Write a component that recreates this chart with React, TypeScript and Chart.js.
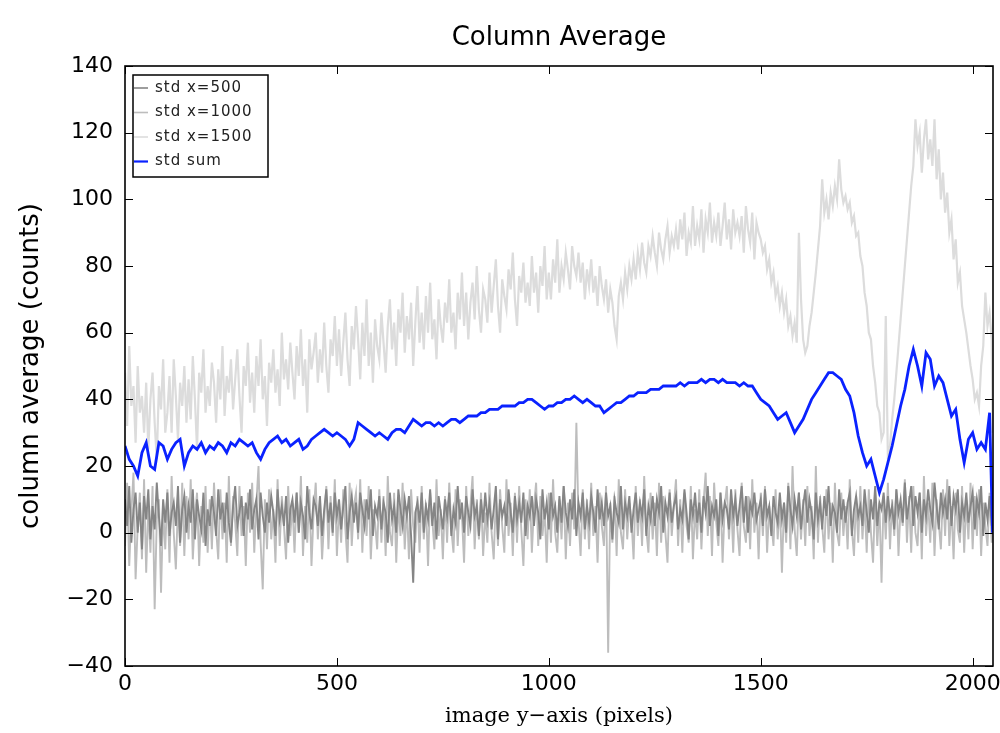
import React, { useEffect, useRef } from "react";
import { Chart, registerables } from "chart.js";

Chart.register(...registerables);

// image y-axis positions (pixels) for the three single-column curves
const xFine = [
  0, 5, 10, 15, 20, 25, 30, 35, 40, 45,
  50, 55, 60, 65, 70, 75, 80, 85, 90, 95,
  100, 105, 110, 115, 120, 125, 130, 135, 140, 145,
  150, 155, 160, 165, 170, 175, 180, 185, 190, 195,
  200, 205, 210, 215, 220, 225, 230, 235, 240, 245,
  250, 255, 260, 265, 270, 275, 280, 285, 290, 295,
  300, 305, 310, 315, 320, 325, 330, 335, 340, 345,
  350, 355, 360, 365, 370, 375, 380, 385, 390, 395,
  400, 405, 410, 415, 420, 425, 430, 435, 440, 445,
  450, 455, 460, 465, 470, 475, 480, 485, 490, 495,
  500, 505, 510, 515, 520, 525, 530, 535, 540, 545,
  550, 555, 560, 565, 570, 575, 580, 585, 590, 595,
  600, 605, 610, 615, 620, 625, 630, 635, 640, 645,
  650, 655, 660, 665, 670, 675, 680, 685, 690, 695,
  700, 705, 710, 715, 720, 725, 730, 735, 740, 745,
  750, 755, 760, 765, 770, 775, 780, 785, 790, 795,
  800, 805, 810, 815, 820, 825, 830, 835, 840, 845,
  850, 855, 860, 865, 870, 875, 880, 885, 890, 895,
  900, 905, 910, 915, 920, 925, 930, 935, 940, 945,
  950, 955, 960, 965, 970, 975, 980, 985, 990, 995,
  1000, 1005, 1010, 1015, 1020, 1025, 1030, 1035, 1040, 1045,
  1050, 1055, 1060, 1065, 1070, 1075, 1080, 1085, 1090, 1095,
  1100, 1105, 1110, 1115, 1120, 1125, 1130, 1135, 1140, 1145,
  1150, 1155, 1160, 1165, 1170, 1175, 1180, 1185, 1190, 1195,
  1200, 1205, 1210, 1215, 1220, 1225, 1230, 1235, 1240, 1245,
  1250, 1255, 1260, 1265, 1270, 1275, 1280, 1285, 1290, 1295,
  1300, 1305, 1310, 1315, 1320, 1325, 1330, 1335, 1340, 1345,
  1350, 1355, 1360, 1365, 1370, 1375, 1380, 1385, 1390, 1395,
  1400, 1405, 1410, 1415, 1420, 1425, 1430, 1435, 1440, 1445,
  1450, 1455, 1460, 1465, 1470, 1475, 1480, 1485, 1490, 1495,
  1500, 1505, 1510, 1515, 1520, 1525, 1530, 1535, 1540, 1545,
  1550, 1555, 1560, 1565, 1570, 1575, 1580, 1585, 1590, 1595,
  1600, 1605, 1610, 1615, 1620, 1625, 1630, 1635, 1640, 1645,
  1650, 1655, 1660, 1665, 1670, 1675, 1680, 1685, 1690, 1695,
  1700, 1705, 1710, 1715, 1720, 1725, 1730, 1735, 1740, 1745,
  1750, 1755, 1760, 1765, 1770, 1775, 1780, 1785, 1790, 1795,
  1800, 1805, 1810, 1815, 1820, 1825, 1830, 1835, 1840, 1845,
  1850, 1855, 1860, 1865, 1870, 1875, 1880, 1885, 1890, 1895,
  1900, 1905, 1910, 1915, 1920, 1925, 1930, 1935, 1940, 1945,
  1950, 1955, 1960, 1965, 1970, 1975, 1980, 1985, 1990, 1995,
  2000, 2005, 2010, 2015, 2020, 2025, 2030, 2035, 2040, 2045,
  2047,
];

// image y-axis positions (pixels) for the summed curve
const xCoarse = [
  0, 10, 20, 30, 40, 50, 60, 70, 80, 90,
  100, 110, 120, 130, 140, 150, 160, 170, 180, 190,
  200, 210, 220, 230, 240, 250, 260, 270, 280, 290,
  300, 310, 320, 330, 340, 350, 360, 370, 380, 390,
  400, 410, 420, 430, 440, 450, 460, 470, 480, 490,
  500, 510, 520, 530, 540, 550, 560, 570, 580, 590,
  600, 610, 620, 630, 640, 650, 660, 670, 680, 690,
  700, 710, 720, 730, 740, 750, 760, 770, 780, 790,
  800, 810, 820, 830, 840, 850, 860, 870, 880, 890,
  900, 910, 920, 930, 940, 950, 960, 970, 980, 990,
  1000, 1010, 1020, 1030, 1040, 1050, 1060, 1070, 1080, 1090,
  1100, 1110, 1120, 1130, 1140, 1150, 1160, 1170, 1180, 1190,
  1200, 1210, 1220, 1230, 1240, 1250, 1260, 1270, 1280, 1290,
  1300, 1310, 1320, 1330, 1340, 1350, 1360, 1370, 1380, 1390,
  1400, 1410, 1420, 1430, 1440, 1450, 1460, 1470, 1480, 1490,
  1500, 1510, 1520, 1530, 1540, 1550, 1560, 1570, 1580, 1590,
  1600, 1610, 1620, 1630, 1640, 1650, 1660, 1670, 1680, 1690,
  1700, 1710, 1720, 1730, 1740, 1750, 1760, 1770, 1780, 1790,
  1800, 1810, 1820, 1830, 1840, 1850, 1860, 1870, 1880, 1890,
  1900, 1910, 1920, 1930, 1940, 1950, 1960, 1970, 1980, 1990,
  2000, 2010, 2020, 2030, 2040, 2047,
];

const std500 = [
  10, 2, 14, -3, 7, 12, 0, 9, -5, 11,
  4, 13, -2, 8, 1, 15, 5, -4, 10, 3,
  12, -1, 6, 9, 2, 14, -3, 7, 11, 0,
  8, 3, 13, -2, 10, 5, 1, 12, -4, 7,
  2, 11, 6, -1, 13, 4, 9, 0, 12, 3,
  -3, 8, 14, 2, 6, 11, -1, 9, 4, 13,
  1, 7, 10, -2, 12, 5, 0, 9, 3, 11,
  6, -1, 13, 4, 8, 2, 11, -3, 7, 10,
  3, 12, 0, 9, 5, -2, 14, 6, 1, 10,
  8, 2, 11, -1, 7, 13, 3, 9, 0, 12,
  5, 10, 1, 8, 14, -2, 6, 11, 3, 9,
  0, 12, 7, 2, 10, 4, 13, -1, 8, 5,
  11, 1, 9, 6, -3, 12, 4, 8, 0, 13,
  7, 2, 10, 5, 11, -1, -15, 6, 9, 3,
  12, 0, 8, 4, 13, 2, 9, -2, 11, 6,
  1, 10, 5, 12, -1, 7, 3, 14, 4, 9,
  0, 11, 6, 2, 13, 5, 8, -1, 10, 3,
  12, 4, 9, 1, 7, 14, -2, 10, 5, 8,
  2, 13, 6, 0, 11, 4, 9, 3, 12, -1,
  8, 5, 11, 2, 10, 6, -2, 13, 4, 9,
  1, 12, 5, 8, 0, 11, 3, 14, 6, 2,
  10, 4, 13, -1, 9, 5, 12, 1, 8, 3,
  11, 6, 0, 13, 4, 9, 2, 12, 5, 8,
  -2, 10, 6, 3, 14, 1, 9, 5, 11, 0,
  7, 12, 3, 9, 5, 13, -1, 8, 4, 11,
  2, 10, 6, 14, 0, 9, 5, 12, 3, 8,
  11, 1, 7, 4, 13, 6, -2, 10, 5, 12,
  3, 9, 0, 11, 6, 14, 2, 8, 5, 10,
  -1, 12, 4, 9, 7, 1, 13, 5, 10, 2,
  8, 14, 3, 11, 0, 9, 6, 12, 4, 7,
  10, 2, 13, 5, 8, -1, 11, 6, 3, 12,
  4, 9, 0, 14, 7, 2, 10, 5, 12, 1,
  8, 13, 3, 10, 6, -2, 12, 4, 9, 1,
  11, 5, 14, 2, 8, 6, 0, 13, 4, 10,
  3, 9, 12, -1, 7, 11, 5, 8, 2, 13,
  6, 0, 10, 4, 14, 2, 9, 7, 12, 3,
  11, 5, 8, 1, 13, 6, 10, 3, 15, 4,
  9, 14, 2, 11, 6, 12, 0, 10, 5, 13,
  7, 3, 15, 8, 1, 12, 6, 10, 4, 14,
  2, 11, 7, 13, 0, 9, 5, 12, 3, 8,
  12, 1, 10, 6, 14, -1, 9, 4, 11, 2,
  6,
];

const std1000 = [
  -4, 15, -10, 6, 18, -14, 2, 12, -8, 16,
  -12, 8, -6, 14, -23, 4, 10, -18, 7, -5,
  13, -9, 17, 0, -11, 9, -4, 15, -7, 11,
  -2, 16, -8, 5, 12, -10, 8, -3, 14, -6,
  10, -5, 15, 1, -8, 13, -2, 9, -9, 17,
  -4, 11, 3, -7, 14, -1, 8, -10, 12, 0,
  15, -6, 9, 20, -3, -17, 10, -5, 13, -2,
  7, -9, 16, -4, 11, 2, -8, 14, -1, 9,
  -6, 12, 0, 17, -7, 8, -3, 13, -10, 6,
  15, -2, 10, -8, 4, 14, -5, 11, -1, 16,
  -7, 9, -3, 13, 1, -9, 15, -4, 8, 12,
  -2, 16, -6, 10, -1, 14, -8, 7, 3, -5,
  13, -3, 11, -7, 17, 0, -4, 12, -9, 9,
  -1, 15, -5, 8, -8, 13, 2, -3, 11, -6,
  14, -2, 9, -10, 12, 4, -5, 16, -1, 7,
  -8, 11, -3, 15, 1, -6, 13, -4, 10, 5,
  -9, 14, -1, 8, 17, -5, 10, -2, 12, -7,
  6, -3, 15, 0, -8, 11, -4, 13, 2, -6,
  16, -1, 9, -7, 12, -3, 14, 1, -10, 10,
  -2, 13, -6, 8, 15, -4, 11, -1, 7, -9,
  12, -3, 16, 0, -6, 10, -2, 14, -8, 9,
  -4, 12, 1, 33, 4, -7, 13, -2, 10, -5,
  15, -1, 8, -9, 12, 2, -4, 14, -36, 9,
  -3, 11, -7, 16, 0, -5, 13, -2, 9, 4,
  -8, 14, -1, 10, -4, 17, 1, -6, 12, -2,
  9, -7, 15, -3, 11, 0, -9, 13, -1, 8,
  16, -4, 10, -6, 12, 2, -3, 14, -8, 7,
  -2, 13, -5, 9, 18, -1, 11, -7, 15, 3,
  -4, 12, -9, 8, 14, -2, 10, -6, 13, 1,
  -7, 15, 2, -3, 11, -5, 16, 0, 9, -8,
  12, -1, 14, -6, 8, 3, -4, 13, -2, 10,
  -12, 9, -3, 15, -5, 20, 1, -7, 12, -2,
  10, -4, 14, -1, 8, -8, 20, -3, 11, 2,
  -6, 13, -2, 9, -9, 15, 0, -4, 12, -1,
  8, -5, 16, 1, -7, 11, -3, 14, -2, 10,
  -6, 13, 0, -9, 12, -4, 9, -15, 11, -2,
  15, -5, 10, -1, 13, -7, 8, 2, 16, -3,
  11, -6, 14, 0, -4, 12, -8, 17, -1, 9,
  -3, 15, -7, 10, 3, -5, 13, -1, 16, -4,
  8, -8, 12, 1, -3, 14, -6, 10, -2, 15,
  -5, 11, -1, 13, -7, 9, 2, -4, 12, -3,
  5,
];

const std1500 = [
  48, 32, 56, 38, 44, 27, 50, 36, 41, 30,
  45, 25, 40, 48, 33, 22, 44, 37, 52, 30,
  36, 47, 30, 52, 41, 28, 45, 38, 50, 33,
  46, 34, 53, 40, 25, 48, 42, 55, 36, 44,
  38, 51, 45, 33, 49, 40, 56, 35, 47, 42,
  52, 37, 46, 55, 41, 30, 50, 44, 57, 39,
  48, 36, 53, 44, 58, 40, 47, 32, 51, 45,
  55, 42, 49, 38, 60, 46, 52, 43, 57, 48,
  40, 56, 47, 61, 44, 52, 36, 58, 49, 54,
  60, 45, 55, 48, 63, 50, 42, 58, 53, 65,
  50, 61, 47, 57, 66, 52, 44, 62, 55, 68,
  58, 46, 63, 53, 70, 50, 60, 45, 64, 56,
  52, 66, 57, 48, 62, 70, 55, 63, 50, 67,
  60, 72, 54, 65, 58, 69, 50, 63, 74, 57,
  66, 55, 71, 60, 75, 58, 64, 52, 70, 62,
  57, 69, 63, 76, 60, 66, 55, 72, 64, 78,
  62, 72, 58, 69, 75, 64, 80, 67, 60, 73,
  70, 63, 78, 66, 74, 82, 68, 60, 76, 71,
  67, 79, 73, 84, 70, 62, 77, 72, 81, 69,
  75, 68, 83, 72, 78, 66, 80, 74, 86, 70,
  78, 70, 82, 75, 88, 72, 80, 76, 84, 79,
  73, 86, 80, 77, 84, 75, 81, 70, 79, 74,
  82, 72, 77, 68, 80, 74, 70, 76, 66, 73,
  69, 62, 58, 71, 75, 70, 78, 73, 80, 76,
  82, 76, 84, 79, 87, 81, 78, 86, 83, 89,
  84, 80, 90, 85, 82, 88, 92, 84, 89, 86,
  91, 85, 94, 88, 96, 83, 90, 87, 98, 86,
  92, 88, 97, 84, 94, 90, 99, 87, 93, 89,
  96, 86, 92, 99, 88, 94, 85, 97, 90, 93,
  89, 95, 84, 98, 91, 87, 96, 82, 93, 90,
  88, 84, 86, 79, 82, 75, 78, 71, 74, 68,
  72, 66, 70, 62, 65, 59, 63, 57, 90, 70,
  58, 54, 56, 62, 66, 72, 78, 85, 92, 106,
  96, 100, 94, 102, 98, 104, 100, 112, 103, 99,
  101, 97, 99, 93, 95, 89, 90, 83, 80, 72,
  68, 60, 58, 50, 45, 38, 36, 28, 30, 65,
  22, 26, 34, 40, 48, 56, 64, 72, 80, 88,
  96, 104, 110, 124, 116, 120, 108, 118, 124, 112,
  118, 110, 124, 106, 115, 100, 108, 96, 102, 90,
  94, 82, 88, 75, 78, 68, 64, 60, 55, 50,
  46, 40, 42, 38, 50, 56, 72, 62, 66, 58,
  30,
];

const stdSum = [
  26, 22, 20, 17, 24, 27, 20, 19, 27, 26,
  22, 25, 27, 28, 20, 24, 26, 25, 27, 24,
  26, 25, 27, 26, 24, 27, 26, 28, 27, 26,
  27, 24, 22, 25, 27, 28, 29, 27, 28, 26,
  27, 28, 25, 26, 28, 29, 30, 31, 30, 29,
  30, 29, 28, 26, 28, 33, 32, 31, 30, 29,
  30, 29, 28, 30, 31, 31, 30, 32, 34, 33,
  32, 33, 33, 32, 33, 32, 33, 34, 34, 33,
  34, 35, 35, 35, 36, 36, 37, 37, 37, 38,
  38, 38, 38, 39, 39, 40, 40, 39, 38, 37,
  38, 38, 39, 39, 40, 40, 41, 40, 39, 40,
  39, 38, 38, 36, 37, 38, 39, 39, 40, 41,
  41, 42, 42, 42, 43, 43, 43, 44, 44, 44,
  44, 45, 44, 45, 45, 45, 46, 45, 46, 46,
  45, 46, 45, 45, 45, 44, 45, 44, 44, 42,
  40, 39, 38, 36, 34, 35, 36, 33, 30, 32,
  34, 37, 40, 42, 44, 46, 48, 48, 47, 46,
  43, 41, 36, 29, 24, 20, 22, 17, 12, 16,
  21, 26, 32, 38, 43, 50, 55, 50, 44, 54,
  52, 44, 47, 45, 40, 35, 37, 28, 21, 28,
  30, 25, 27, 25, 36, 0,
];

const xTicks = [0, 500, 1000, 1500, 2000];
const yTicks = [-40, -20, 0, 20, 40, 60, 80, 100, 120, 140];
const seriesLabels = ["std x=500", "std x=1000", "std x=1500", "std sum"];
const seriesColors = ["#858585", "#bdbdbd", "#dcdcdc", "#0a22ff"];
const chartTitle = "Column Average";
const xTitle = "image y\u2212axis (pixels)";
const yTitle = "column average (counts)";

const SANS = "'DejaVu Sans', sans-serif";
const SERIF = "'DejaVu Serif', 'Liberation Serif', serif";

function fmt(v: number): string {
  return v < 0 ? "\u2212" + Math.abs(v) : String(v);
}

export default function App() {
  const ref = useRef<HTMLCanvasElement>(null);

  useEffect(() => {
    const canvas = ref.current;
    if (!canvas) return;
    const toPts = (xs: number[], ys: number[]) => xs.map((x, i) => ({ x, y: ys[i] }));
    const allSeries = [
      { xs: xFine, ys: std500 },
      { xs: xFine, ys: std1000 },
      { xs: xFine, ys: std1500 },
      { xs: xCoarse, ys: stdSum },
    ];
    const orders = [1, 2, 3, 0];
    const widths = [1.9, 1.9, 2.2, 2.8];

    const decor = {
      id: "decor",
      afterDatasetsDraw(chart: any) {
        const { ctx, chartArea: a, scales } = chart;
        ctx.save();
        ctx.strokeStyle = "#000";
        ctx.lineWidth = 1;
        const tl = 8;
        for (const v of xTicks) {
          const px = Math.round(scales.x.getPixelForValue(v)) + 0.5;
          ctx.beginPath();
          ctx.moveTo(px, a.bottom);
          ctx.lineTo(px, a.bottom - tl);
          ctx.moveTo(px, a.top);
          ctx.lineTo(px, a.top + tl);
          ctx.stroke();
        }
        for (const v of yTicks) {
          const py = Math.round(scales.y.getPixelForValue(v)) + 0.5;
          ctx.beginPath();
          ctx.moveTo(a.left, py);
          ctx.lineTo(a.left + tl, py);
          ctx.moveTo(a.right, py);
          ctx.lineTo(a.right - tl, py);
          ctx.stroke();
        }
        ctx.lineWidth = 1.6;
        ctx.strokeRect(a.left, a.top, a.right - a.left, a.bottom - a.top);

        // legend
        const lx = a.left + 8;
        const ly = a.top + 9;
        const lw = 135;
        const lh = 102;
        ctx.fillStyle = "#fff";
        ctx.fillRect(lx, ly, lw, lh);
        ctx.lineWidth = 1.5;
        ctx.strokeStyle = "#000";
        ctx.strokeRect(lx, ly, lw, lh);
        ctx.font = `15px ${SANS}`;
        (ctx as any).letterSpacing = "1px";
        ctx.textBaseline = "middle";
        ctx.textAlign = "left";
        for (let i = 0; i < seriesLabels.length; i++) {
          const ry = ly + 13 + i * 24.5;
          ctx.strokeStyle = seriesColors[i];
          ctx.lineWidth = i === 3 ? 2.2 : 1.6;
          ctx.beginPath();
          ctx.moveTo(lx + 1, ry);
          ctx.lineTo(lx + 15, ry);
          ctx.stroke();
          ctx.fillStyle = "#222";
          ctx.fillText(seriesLabels[i], lx + 22, ry);
        }
        (ctx as any).letterSpacing = "0px";
        ctx.restore();
      },
      afterDraw(chart: any) {
        const { ctx, chartArea: a } = chart;
        ctx.save();
        ctx.fillStyle = "#000";
        ctx.textAlign = "center";
        ctx.textBaseline = "middle";
        const cx = (a.left + a.right) / 2;
        ctx.font = `26px ${SANS}`;
        ctx.fillText(chartTitle, cx, 38);
        ctx.font = `21px ${SERIF}`;
        ctx.fillText(xTitle, cx, 717);
        ctx.translate(31, (a.top + a.bottom) / 2);
        ctx.rotate(-Math.PI / 2);
        ctx.font = `26px ${SANS}`;
        ctx.fillText(yTitle, 0, 0);
        ctx.restore();
      },
    };

    const chart = new Chart(canvas, {
      type: "line",
      data: {
        datasets: allSeries.map((s, i) => ({
          label: seriesLabels[i],
          data: toPts(s.xs, s.ys),
          borderColor: seriesColors[i],
          backgroundColor: seriesColors[i],
          borderWidth: widths[i],
          pointRadius: 0,
          tension: 0,
          fill: false,
          order: orders[i],
        })),
      },
      options: {
        responsive: false,
        animation: false,
        devicePixelRatio: 1,
        events: [],
        layout: { padding: { left: 0, top: 66, right: 7, bottom: 0 } },
        plugins: {
          legend: { display: false },
          title: { display: false },
          tooltip: { enabled: false },
        },
        scales: {
          x: {
            type: "linear",
            min: 0,
            max: 2048,
            grid: { display: false, drawTicks: false },
            border: { display: false },
            afterBuildTicks: (s: any) => {
              s.ticks = xTicks.map((v) => ({ value: v }));
            },
            afterFit: (s: any) => {
              s.height = 67;
              s.paddingLeft = 0;
              s.paddingRight = 0;
            },
            ticks: {
              autoSkip: false,
              maxRotation: 0,
              padding: 5,
              color: "#000",
              font: { family: SANS, size: 22 },
              callback: (v: any) => fmt(Number(v)),
            },
          },
          y: {
            type: "linear",
            min: -40,
            max: 140,
            grid: { display: false, drawTicks: false },
            border: { display: false },
            afterBuildTicks: (s: any) => {
              s.ticks = yTicks.map((v) => ({ value: v }));
            },
            afterFit: (s: any) => {
              s.width = 125;
              s.paddingTop = 0;
              s.paddingBottom = 0;
            },
            ticks: {
              autoSkip: false,
              padding: 12,
              color: "#000",
              font: { family: SANS, size: 22 },
              callback: (v: any) => fmt(Number(v)),
            },
          },
        },
      },
      plugins: [decor],
    } as any);

    return () => chart.destroy();
  }, []);

  return (
    <div style={{ position: "absolute", left: 0, top: 0, width: 1000, height: 733, background: "#fff" }}>
      <canvas ref={ref} width={1000} height={733} style={{ display: "block", width: 1000, height: 733 }} />
    </div>
  );
}
